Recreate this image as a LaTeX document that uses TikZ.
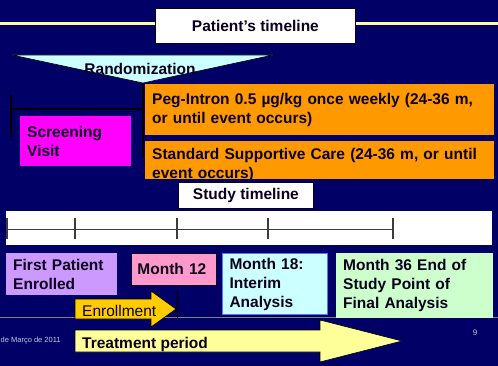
\documentclass[tikz,border=0pt]{standalone}
\usepackage{fontspec}
\setmainfont{Liberation Sans}
\usepackage{tikz}
\usetikzlibrary{positioning}
\definecolor{navy}{RGB}{0,0,102}
\definecolor{ink}{RGB}{10,0,30}
\definecolor{paleyellow}{RGB}{255,255,153}
\definecolor{palecyan}{RGB}{204,255,255}
\definecolor{palegreen}{RGB}{204,255,204}
\definecolor{lilac}{RGB}{204,153,255}
\definecolor{rose}{RGB}{255,153,204}
\definecolor{amber}{RGB}{255,153,0}
\definecolor{gold}{RGB}{255,204,0}
\definecolor{fuchsia}{RGB}{255,0,255}
\definecolor{footgray}{RGB}{200,200,220}

\begin{document}
\begin{tikzpicture}[x=1pt,y=-1pt,
	every node/.style={font=\fontsize{15.5}{19}\selectfont\bfseries, text=ink},
	card/.style={anchor=north west, align=left, inner ysep=0pt, inner xsep=7pt},
	rim/.style={draw=ink, line width=.8pt},
	tick/.style={draw={rgb,255:red,60;green,60;blue,60}, line width=1.2pt}]
			\clip (0,0) rectangle (498,366);
			\fill[navy] (0,0) rectangle (498,366);
			\draw[line width=3pt, paleyellow] (0,24)--(498,24);
			\node[card, rim, fill=white, minimum width=200pt, minimum height=35pt] (patient) at (155,8) {Patient’s timeline};
			\coordinate (apex) at (143,83);
			\draw[fill=palecyan, line width=.6pt] (12,55)--(273,55)--(apex)--cycle;
			\node[inner sep=0pt] (rand) at (140,68.5) {Randomization};
			\draw[line width=1.2pt, black] (11,95)--(11,137) (11,109)--(143,109);
			\draw[line width=1.2pt, black] (apex)--(143,157);
			\node[card, fill=fuchsia, text width=97pt, minimum height=50pt] (screen) at (20,116) {Screening\\Visit};
			\node[card, fill=amber, text width=335pt, minimum height=51pt] (peg) at (145,84) {Peg-Intron 0.5 µg/kg once weekly (24-36 m,\\or until event occurs)};
			\begin{scope}
			\clip (145,141) rectangle (494,179);
			\fill[amber] (145,141) rectangle (494,179);
			\node[card, text width=335pt, inner ysep=7pt] (care) at (145,141) {Standard Supportive Care (24-36 m, or until\\event occurs)};
			\end{scope}
			\node[card, rim, fill=white, minimum width=135pt, minimum height=26pt] (study) at (178,182) {Study timeline};
			\fill[white] (6,211) rectangle (492,245);
			\draw[tick] (6,229.5)--(393,229.5);
			\foreach \x in {7,75,177,268,393}
				\draw[tick] (\x,218)--(\x,239);
			\draw[line width=1.2pt, gray] (0,317.5)--(498,317.5);
			\node[card, fill=lilac, text width=97pt, minimum height=42pt] (first) at (6,253) {First Patient\\Enrolled};
			\node[card, rim, fill=rose, inner xsep=6pt, text width=73pt, minimum height=32pt] (m12) at (131,253) {Month 12};
			\node[card, draw={rgb,255:red,80;green,120;blue,255}, line width=1pt, fill=palecyan, text width=91pt, minimum height=61pt] (m18) at (222,253) {Month 18:\\Interim\\Analysis};
			\node[card, fill=palegreen, text width=143pt, minimum height=65pt] (m36) at (336,253) {Month 36 End of\\Study Point of\\Final Analysis};
			\draw[line width=.8pt, black] (177,290)--(177,318);
			\draw[fill=gold, line width=.6pt] (75,299)--(151,299)--(151,291)--(176,309)--(151,327)--(151,319)--(75,319)--cycle;
			\node[anchor=base west, inner sep=0pt, font=\fontsize{15.5}{19}\selectfont] (enrol) at (82,316) {Enrollment};
			\draw[fill=paleyellow, line width=.6pt] (75,330)--(320,330)--(320,320)--(402,341)--(320,362)--(320,352)--(75,352)--cycle;
			\node[anchor=base west, inner sep=0pt] (treat) at (82,348) {Treatment period};
			\node[anchor=west, inner sep=0pt, font=\fontsize{7.5}{9}\selectfont, text=footgray] (date) at (0.5,341) {de Março de 2011};
			\node[inner sep=0pt, font=\fontsize{8}{9}\selectfont, text=footgray] (page) at (475,333) {9};
\end{tikzpicture}
\end{document}
